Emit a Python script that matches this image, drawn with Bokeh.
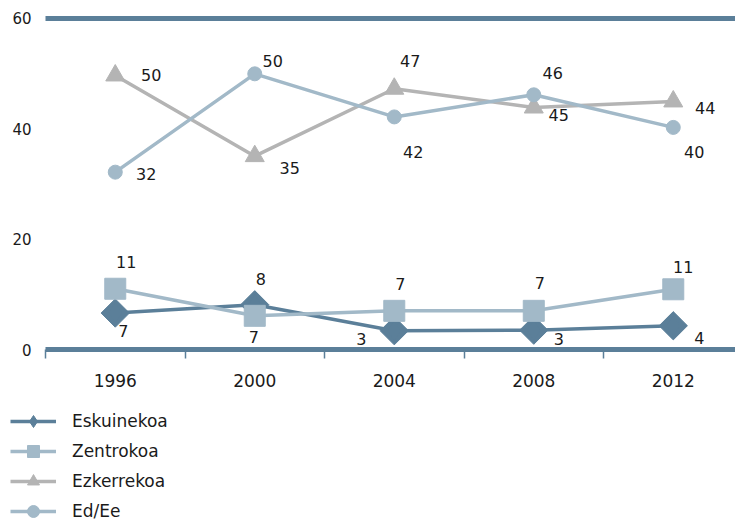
import math
from bokeh.plotting import figure
from bokeh.models import (ColumnDataSource, Range1d, FixedTicker, Legend, LegendItem,
                          LinearAxis)
from bokeh.core.properties import value
from bokeh.embed import file_html
from bokeh.resources import INLINE

# ---- data ----
years = ["1996", "2000", "2004", "2008", "2012"]
eskuinekoa = [6.6, 8.1, 3.4, 3.5, 4.3]
eskuinekoa_labels = ["7", "8", "3", "3", "4"]
zentrokoa = [11.0, 6.1, 7.0, 7.0, 10.9]
zentrokoa_labels = ["11", "7", "7", "7", "11"]
ezkerrekoa = [49.6, 35.0, 47.2, 43.8, 44.9]
ezkerrekoa_labels = ["50", "35", "47", "45", "44"]
ed_ee = [32.1, 49.9, 42.1, 46.1, 40.2]
ed_ee_labels = ["32", "50", "42", "46", "40"]
y_ticks = [0, 20, 40, 60]
y_top = 60

# ---- label offsets (screen px, style) ----
esk_dx = [8, 6, -33, 25, 26]
esk_dy = [18, -26, 8, 9, 12]
zen_dx = [11, -1, 6, 6, 10]
zen_dy = [-27, 21, -27, -28, -22]
ezk_dx = [36, 35, 16, 25, 32]
ezk_dy = [0, 12, -28, 7, 7]
ed_dx = [31, 18, 19, 19, 21]
ed_dy = [2, -13, 35, -22, 25]

DARK = "#5b7f99"
LIGHT = "#a2b9c8"
GRAY = "#b4b4b4"
TXT = "#1a1a1a"
FONT = "DejaVu Sans"

xs = list(range(len(years)))
X_LO, X_HI = -0.5, 4.446

# frame covers the whole canvas; axes are pinned inside it
p = figure(width=735, height=523, output_backend="svg", toolbar_location=None,
           x_range=Range1d(-0.8226, X_HI), y_range=Range1d(-31.49, 63.17),
           min_border_left=0, min_border_right=0, min_border_top=0, min_border_bottom=0)
p.outline_line_color = None
p.xgrid.visible = False
p.ygrid.visible = False
p.background_fill_color = "white"

# x axis
p.xaxis.fixed_location = 0
p.xaxis.bounds = (X_LO, X_HI)
p.xaxis.ticker = FixedTicker(ticks=xs, minor_ticks=[i - 0.5 for i in xs])
p.xaxis.major_label_overrides = {i: y for i, y in zip(xs, years)}
p.xaxis.axis_line_color = DARK
p.xaxis.axis_line_width = 5
p.xaxis.major_tick_line_color = None
p.xaxis.major_tick_out = 0
p.xaxis.major_tick_in = 0
p.xaxis.minor_tick_line_color = DARK
p.xaxis.minor_tick_line_width = 1.5
p.xaxis.minor_tick_out = 9
p.xaxis.minor_tick_in = 0
p.xaxis.major_label_standoff = 15
p.xaxis.major_label_text_font = FONT
p.xaxis.major_label_text_font_size = "17px"
p.xaxis.major_label_text_color = TXT

# y axis
p.yaxis.fixed_location = X_LO
p.yaxis.ticker = FixedTicker(ticks=y_ticks)
p.yaxis.axis_line_color = None
p.yaxis.major_tick_line_color = None
p.yaxis.minor_tick_line_color = None
p.yaxis.major_tick_out = 0
p.yaxis.major_tick_in = 0
p.yaxis.major_label_standoff = 14
p.yaxis.major_label_text_font = FONT
p.yaxis.major_label_text_font_size = "15px"
p.yaxis.major_label_text_color = TXT

# top rule at 60
top_axis = LinearAxis(fixed_location=y_top, bounds=(X_LO, X_HI),
                      ticker=FixedTicker(ticks=[]), axis_line_color=DARK,
                      axis_line_width=5, major_tick_line_color=None,
                      minor_tick_line_color=None, major_label_text_font_size="0px")
p.add_layout(top_axis, "above")

series = [
    ("Eskuinekoa", eskuinekoa, eskuinekoa_labels, esk_dx, esk_dy, DARK, "square", 20, math.pi / 4),
    ("Zentrokoa", zentrokoa, zentrokoa_labels, zen_dx, zen_dy, LIGHT, "square", 21, 0),
    ("Ezkerrekoa", ezkerrekoa, ezkerrekoa_labels, ezk_dx, ezk_dy, GRAY, "triangle", 19, 0),
    ("Ed/Ee", ed_ee, ed_ee_labels, ed_dx, ed_dy, LIGHT, "circle", 14, 0),
]

items = []
for name, vals, labs, dx, dy, color, marker, size, ang in series:
    src = ColumnDataSource(dict(x=xs, y=vals, label=labs, dx=dx, dy=dy))
    ln = p.line("x", "y", source=src, line_color=color, line_width=3.5)
    sc = p.scatter("x", "y", source=src, marker=marker, size=size, angle=ang,
                   fill_color=color, line_color=color)
    rends = [ln, sc]
    if ang:
        # same-colour diamond inside the rotated square: shows as a diamond in the legend
        dm = p.scatter("x", "y", source=src, marker="diamond", size=size,
                       fill_color=color, line_color=color)
        rends = [ln, dm]
    p.text("x", "y", text="label", source=src, x_offset="dx", y_offset="dy",
           text_font=value(FONT), text_font_size="16px", text_color=TXT,
           text_align="center", text_baseline="middle")
    items.append(LegendItem(label=name, renderers=rends))

legend = Legend(items=items, location=(10, -3), orientation="vertical",
                glyph_width=46, glyph_height=30, label_standoff=16, padding=0,
                margin=0, spacing=0, border_line_color=None, background_fill_alpha=0,
                label_text_font=FONT, label_text_font_size="17px", label_text_color=TXT)
p.add_layout(legend)

open("out.html", "w").write(file_html(p, INLINE))
